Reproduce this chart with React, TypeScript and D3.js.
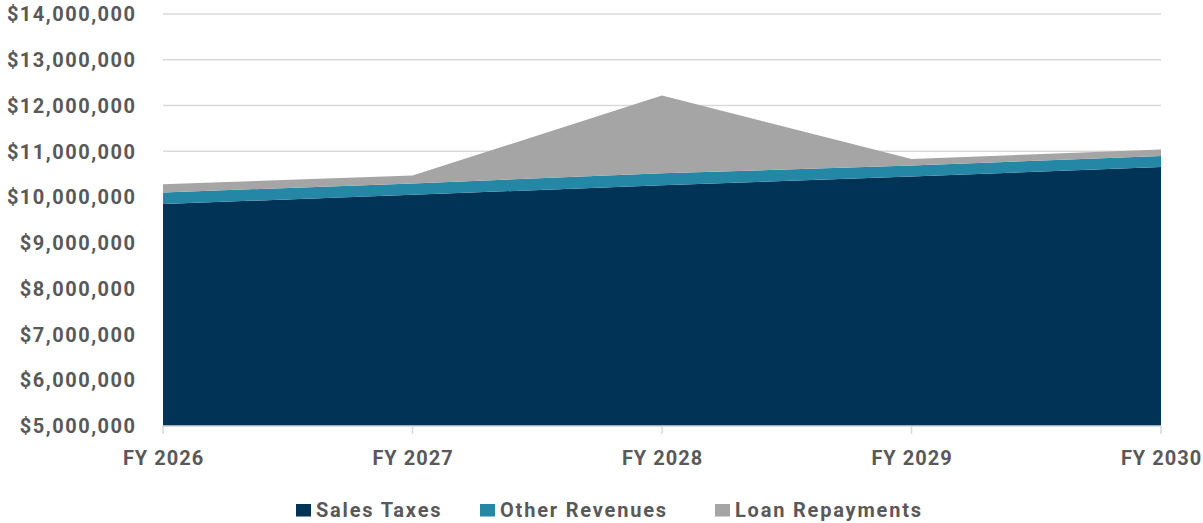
import React from "react";
import * as d3 from "d3";

const categories = ["FY 2026", "FY 2027", "FY 2028", "FY 2029", "FY 2030"];
const salesTaxes = [9850000, 10050000, 10260000, 10450000, 10660000];
const otherRevenues = [250000, 250000, 260000, 240000, 240000];
const loanRepayments = [180000, 170000, 1700000, 140000, 140000];
const seriesNames = ["Sales Taxes", "Other Revenues", "Loan Repayments"];
const seriesColors = ["#003356", "#2387A5", "#A5A5A5"];
const yTicks = [5000000, 6000000, 7000000, 8000000, 9000000, 10000000, 11000000, 12000000, 13000000, 14000000];

const W = 1203, H = 523;
const left = 163, right = 1161, top = 14, bottom = 426;
const font = "Roboto, 'Liberation Sans', Arial, sans-serif";
const textColor = "#595959";

export default function App() {
  const x = d3.scalePoint<string>().domain(categories).range([left, right]);
  const y = d3.scaleLinear().domain([5000000, 14000000]).range([bottom, top]);
  const rows = categories.map((c, i) => ({
    cat: c,
    "Sales Taxes": salesTaxes[i],
    "Other Revenues": otherRevenues[i],
    "Loan Repayments": loanRepayments[i],
  }));
  const stacked = d3.stack<any>().keys(seriesNames)(rows);
  const area = d3
    .area<any>()
    .x((d) => x(d.data.cat) as number)
    .y0((d) => y(Math.max(d[0], 5000000)))
    .y1((d) => y(d[1]));
  const fmt = (v: number) => "$" + d3.format(",")(v);
  const legendItems = [
    { name: "Sales Taxes", sx: 296, tx: 316 },
    { name: "Other Revenues", sx: 480, tx: 500 },
    { name: "Loan Repayments", sx: 715, tx: 735 },
  ];
  return (
    <svg width={W} height={H} style={{ position: "absolute", left: 0, top: 0, background: "#fff" }}>
      {yTicks.map((t) => (
        <line key={t} x1={left} x2={right} y1={y(t)} y2={y(t)} stroke="#D9D9D9" strokeWidth={1.5} />
      ))}
      {stacked.map((s, i) => (
        <path key={s.key} d={area(s) as string} fill={seriesColors[i]} />
      ))}
      <line x1={left} x2={right} y1={bottom} y2={bottom} stroke="#D9D9D9" strokeWidth={1.5} />
      {categories.map((c) => (
        <line key={c} x1={x(c)} x2={x(c)} y1={bottom} y2={bottom + 8} stroke="#D9D9D9" strokeWidth={1.5} />
      ))}
      {yTicks.map((t) => (
        <text key={t} x={136.5} y={y(t)} dy="0.36em" textAnchor="end" fill={textColor}
          fontFamily={font} fontWeight="bold" fontSize={20} letterSpacing={1.5}>
          {fmt(t)}
        </text>
      ))}
      {categories.map((c) => (
        <text key={c} x={(x(c) as number) + 0.5} y={465} textAnchor="middle" fill={textColor}
          fontFamily={font} fontWeight="bold" fontSize={20} letterSpacing={1.0}>
          {c}
        </text>
      ))}
      {legendItems.map((l, i) => (
        <g key={l.name}>
          <rect x={l.sx} y={504} width={15} height={12.5} fill={seriesColors[i]} />
          <text x={l.tx} y={510} dy="0.36em" fill={textColor} fontFamily={font} fontWeight="bold"
            fontSize={20} letterSpacing={1.8}>
            {l.name}
          </text>
        </g>
      ))}
    </svg>
  );
}
